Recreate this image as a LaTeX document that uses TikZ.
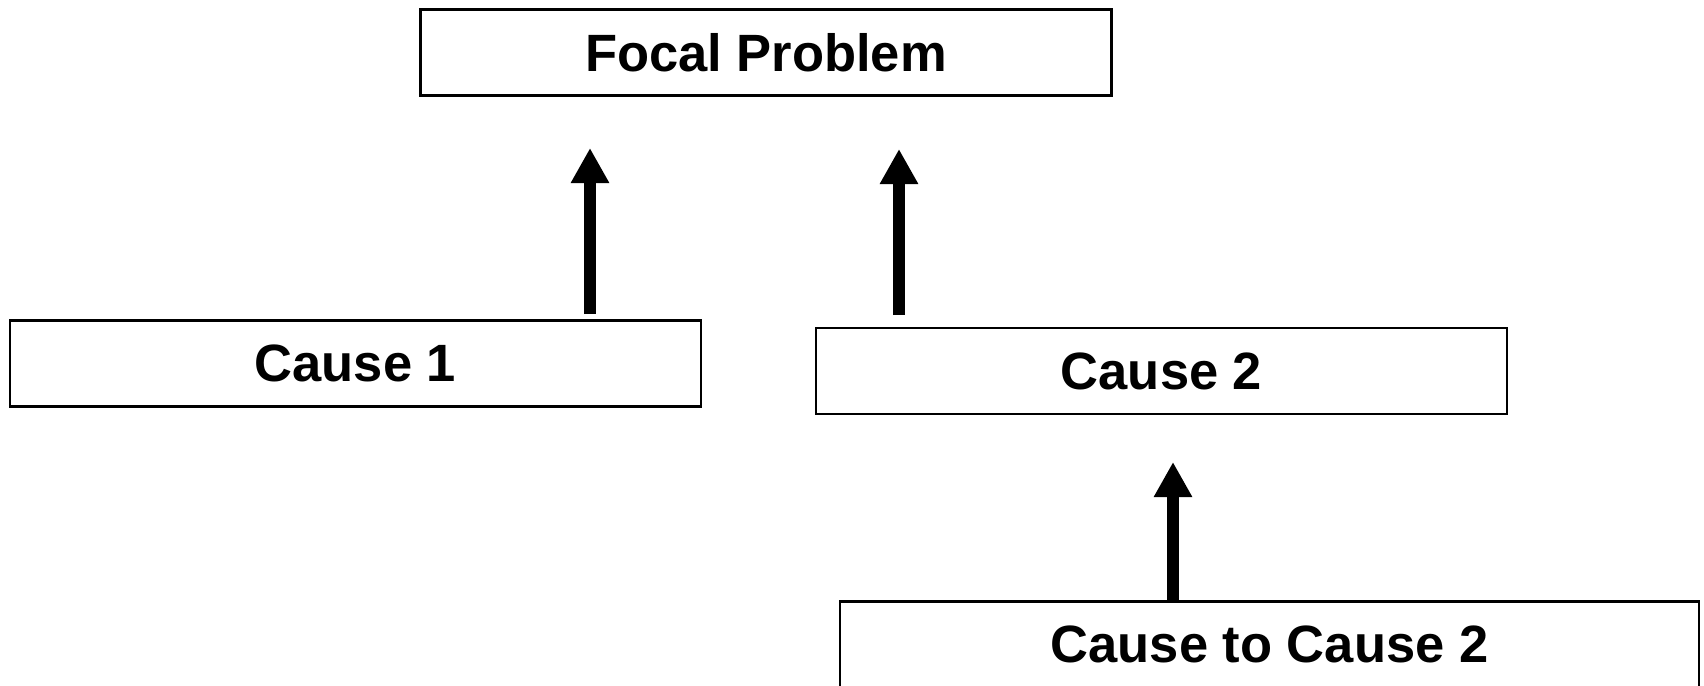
\documentclass[tikz,border=0pt]{standalone}
\usepackage{fontspec}
\setmainfont{Liberation Sans}
\usetikzlibrary{arrows.meta}
\begin{document}
\begin{tikzpicture}[x=1pt,y=-1pt,
  box/.style={draw=black,line width=2.6pt,fill=white,inner sep=0pt,
    minimum width=691pt,minimum height=86pt,
    font=\fontsize{52.5pt}{60pt}\selectfont\bfseries},
  fatarrow/.style={line width=12pt,-{Triangle[width=36pt,length=35pt]}}]
\useasboundingbox (0,0) rectangle (1704,685);
\fill[white] (0,0) rectangle (1704,685);
\node[box] (focal) at (766,52.5) {Focal Problem};
\node[box] (c1) at (355.5,363.5) {Cause 1};
\node[box] (c2) at (1161.5,371) {Cause 2};
\node[box,minimum width=859pt] (c3) at (1269.5,644.5) {Cause to Cause 2};
\coordinate (a1s) at (590,314);
\coordinate (a1e) at (590,148);
\coordinate (a2s) at (899,315);
\coordinate (a2e) at (899,149);
\coordinate (a3e) at (1173,462);
\draw[fatarrow] (a1s) -- (a1e);
\draw[fatarrow] (a2s) -- (a2e);
\draw[fatarrow] (c3.north -| a3e) -- (a3e);
\end{tikzpicture}
\end{document}
